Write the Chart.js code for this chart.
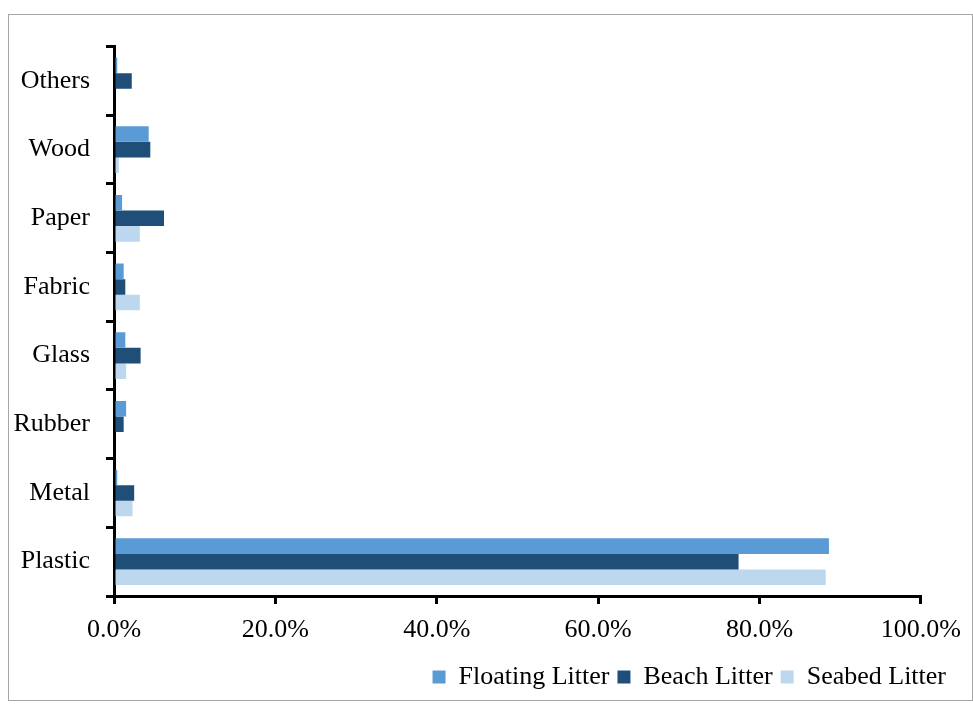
<!DOCTYPE html>
<html lang="en">
<head>
    <meta charset="UTF-8">
    <title>Marine litter composition</title>
    <script src="https://cdn.jsdelivr.net/npm/chart.js"></script>
</head>
<style>
    body{
        margin: 0;
        background: #fff;
    }
    .box{
        position: absolute;
        left: 8px;
        top: 14px;
        width: 963px;
        height: 685px;
        border: 1px solid #a6a6a6;
    }
</style>
<body>
    <div class="box">
        <canvas id="myChart" width="963" height="685"></canvas>
    </div>

    <script>
        const categories = ['Others', 'Wood', 'Paper', 'Fabric', 'Glass', 'Rubber', 'Metal', 'Plastic'];
        const floatingLitter = [0.4, 4.3, 1.0, 1.2, 1.4, 1.5, 0.4, 88.6];
        const beachLitter = [2.2, 4.5, 6.2, 1.4, 3.3, 1.2, 2.5, 77.4];
        const seabedLitter = [0, 0.6, 3.2, 3.2, 1.5, 0, 2.3, 88.2];
        const xTicks = [0, 20, 40, 60, 80, 100];

        const font = { family: '"Liberation Serif", "Times New Roman", serif', size: 26 };

        const ctx = document.getElementById('myChart').getContext('2d');
        new Chart(ctx, {
            type: 'bar',
            data: {
                labels: categories,
                datasets: [
                    { label: 'Floating Litter', data: floatingLitter, backgroundColor: '#5b9bd5' },
                    { label: 'Beach Litter', data: beachLitter, backgroundColor: '#1f4e79' },
                    { label: 'Seabed Litter', data: seabedLitter, backgroundColor: '#bdd7ee' }
                ]
            },
            options: {
                indexAxis: 'y',
                responsive: false,
                animation: false,
                categoryPercentage: 0.68,
                barPercentage: 1,
                layout: { padding: { top: 29, right: 18, left: 0, bottom: 0 } },
                scales: {
                    x: {
                        min: 0,
                        max: 100,
                        afterBuildTicks: (scale) => { scale.ticks = xTicks.map(v => ({ value: v })); },
                        afterFit: (scale) => { scale.height = 60; },
                        ticks: {
                            color: '#000',
                            font: font,
                            padding: 11,
                            maxRotation: 0,
                            callback: (v) => v.toFixed(1) + '%'
                        },
                        grid: { drawOnChartArea: false, drawTicks: true, tickLength: 8, color: '#000', lineWidth: 3 },
                        border: { color: '#000', width: 3 }
                    },
                    y: {
                        afterFit: (scale) => { scale.width = 105; },
                        ticks: { color: '#000', font: font, padding: 16 },
                        grid: { drawOnChartArea: false, drawTicks: true, tickLength: 8, color: '#000', lineWidth: 3 },
                        border: { color: '#000', width: 3 }
                    },
                    // empty strip on the right so the legend can sit further right than the plot
                    spacer: {
                        type: 'linear',
                        axis: 'y',
                        position: 'right',
                        afterFit: (scale) => { scale.width = 33; },
                        ticks: { display: false },
                        grid: { display: false },
                        border: { display: false }
                    }
                },
                plugins: {
                    legend: {
                        position: 'bottom',
                        align: 'end',
                        labels: {
                            color: '#000',
                            font: font,
                            boxWidth: 13,
                            boxHeight: 13,
                            padding: 8
                        }
                    },
                    tooltip: { enabled: false }
                }
            }
        });
    </script>
</body>
</html>
